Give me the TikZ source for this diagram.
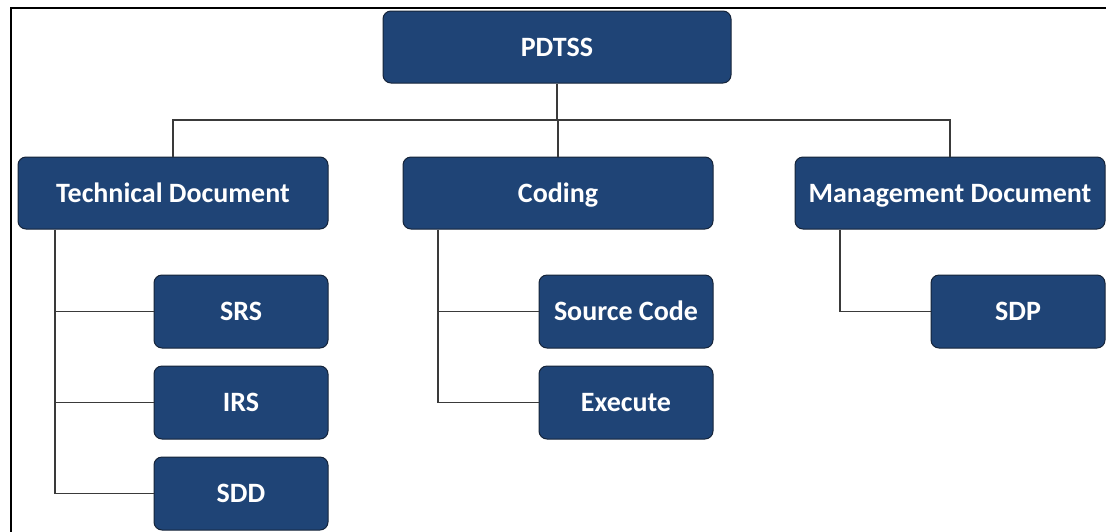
\documentclass[tikz,border=0pt]{standalone}
\usepackage{fontspec}
\setmainfont{Carlito}
\definecolor{boxblue}{HTML}{1F4476}
\definecolor{boxedge}{HTML}{15243A}
\definecolor{linegray}{HTML}{3A3A3A}
\tikzset{
  box/.style={draw=boxedge, line width=1pt, fill=boxblue, rounded corners=8pt,
    text=white, font=\fontsize{28}{32}\selectfont\bfseries, inner sep=0pt,
    text height=18pt, text depth=0pt, align=center},
  bigbox/.style={box, minimum width=310pt, minimum height=72pt},
  smallbox/.style={box, minimum width=174pt, minimum height=73pt},
  conn/.style={draw=linegray, line width=1.1pt},
  frame/.style={draw=black, line width=2.6pt}
}
\begin{document}
\begin{tikzpicture}[x=1pt,y=-1pt]
\useasboundingbox (0,0) rectangle (1106,531);
\coordinate (fa) at (11,540);
\coordinate (fb) at (11,8);
\coordinate (fc) at (1115,8);
\draw[frame] (fa) -- (fb) -- (fc);
\node[bigbox, minimum width=348pt] (root) at (557,47) {PDTSS};
\node[bigbox] (tech) at (173,193) {Technical Document};
\node[bigbox] (coding) at (558,193) {Coding};
\node[bigbox] (mgmt) at (950,193) {Management Document};
\node[smallbox] (srs) at (241,311.5) {SRS};
\node[smallbox] (irs) at (241,402.5) {IRS};
\node[smallbox] (sdd) at (241,493.5) {SDD};
\node[smallbox] (src) at (626,311.5) {Source Code};
\node[smallbox] (exe) at (626,402.5) {Execute};
\node[smallbox] (sdp) at (1018,311.5) {SDP};
\coordinate (bus) at (557,120);
\coordinate (ts) at (55,0);
\coordinate (cs) at (438,0);
\coordinate (ms) at (840,0);
\draw[conn] (root.south) -- (root.south |- bus);
\draw[conn] (tech.north) |- (bus) -| (mgmt.north);
\draw[conn] (coding.north) -- (coding.north |- bus);
\draw[conn] (tech.south -| ts) |- (sdd.west);
\draw[conn] (srs.west) -- (srs.west -| ts);
\draw[conn] (irs.west) -- (irs.west -| ts);
\draw[conn] (coding.south -| cs) |- (exe.west);
\draw[conn] (src.west) -- (src.west -| cs);
\draw[conn] (mgmt.south -| ms) |- (sdp.west);
\end{tikzpicture}
\end{document}
